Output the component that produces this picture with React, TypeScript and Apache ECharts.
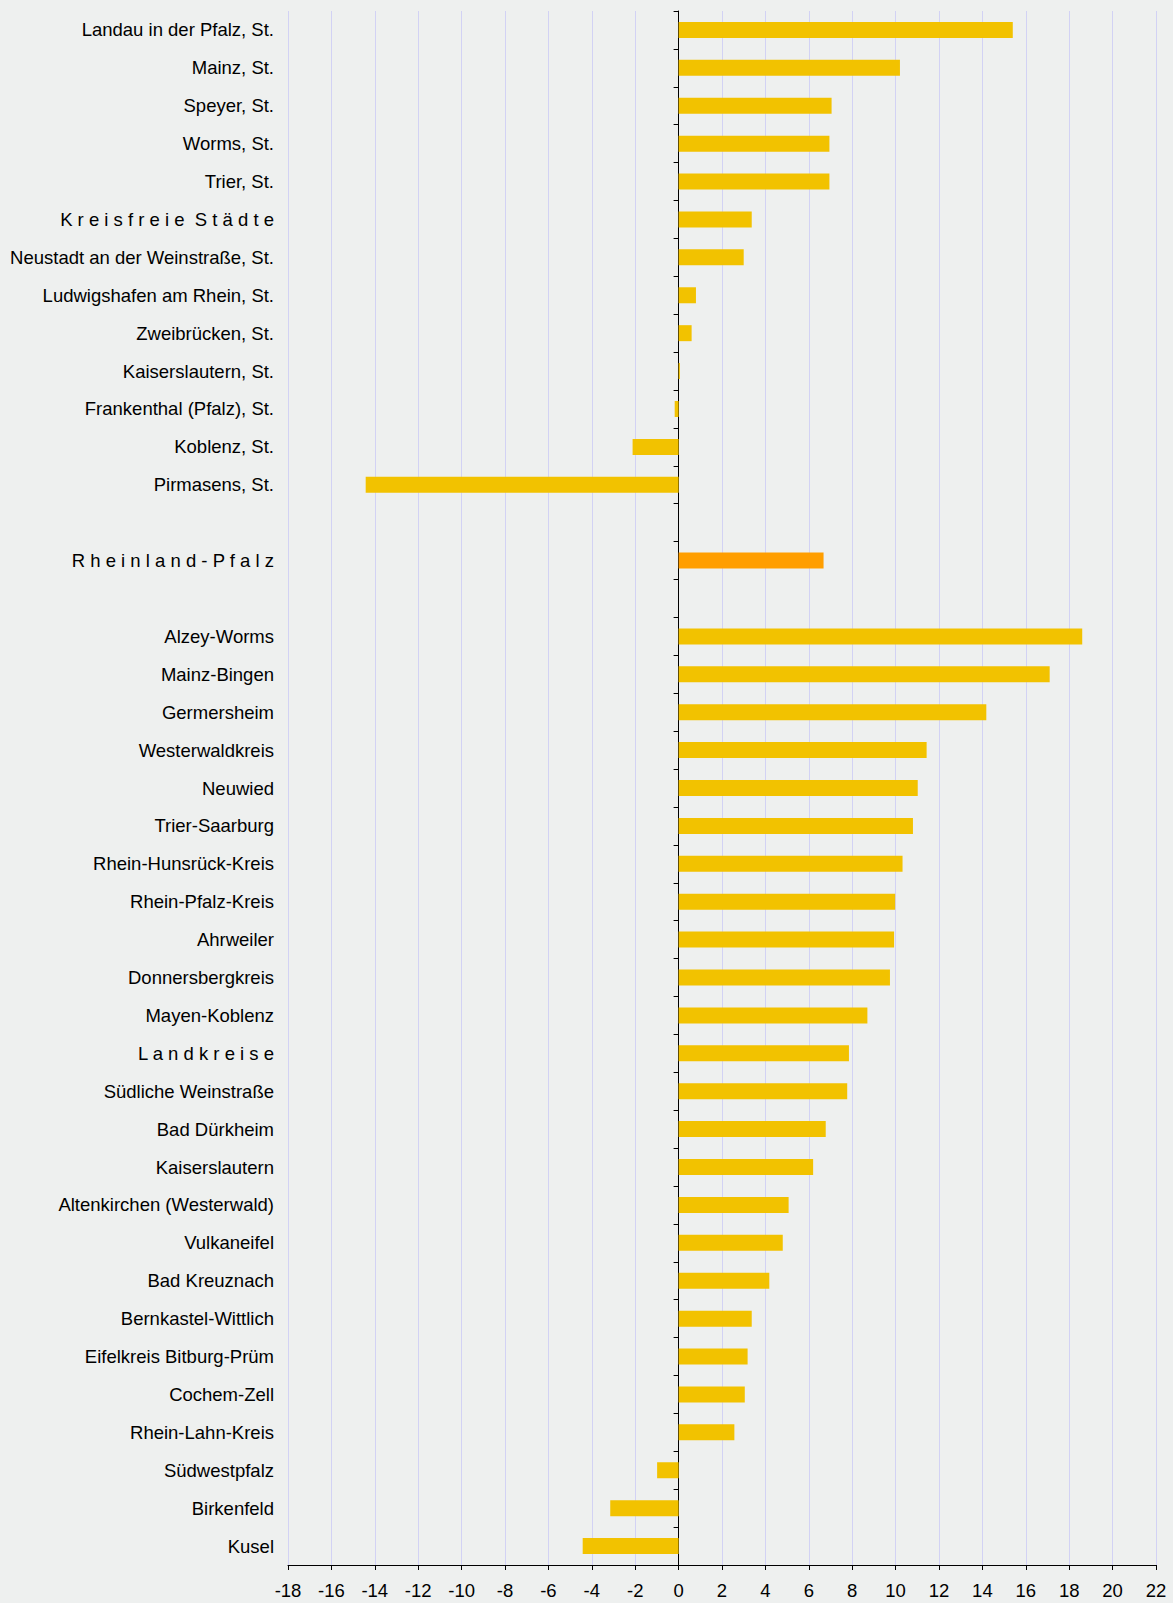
import React, { useEffect, useRef } from "react";
import * as echarts from "echarts";

const categories: string[] = [
  "Landau in der Pfalz, St.",
  "Mainz, St.",
  "Speyer, St.",
  "Worms, St.",
  "Trier, St.",
  "K r e i s f r e i e  S t ä d t e",
  "Neustadt an der Weinstraße, St.",
  "Ludwigshafen am Rhein, St.",
  "Zweibrücken, St.",
  "Kaiserslautern, St.",
  "Frankenthal (Pfalz), St.",
  "Koblenz, St.",
  "Pirmasens, St.",
  "",
  "R h e i n l a n d - P f a l z",
  " ",
  "Alzey-Worms",
  "Mainz-Bingen",
  "Germersheim",
  "Westerwaldkreis",
  "Neuwied",
  "Trier-Saarburg",
  "Rhein-Hunsrück-Kreis",
  "Rhein-Pfalz-Kreis",
  "Ahrweiler",
  "Donnersbergkreis",
  "Mayen-Koblenz",
  "L a n d k r e i s e",
  "Südliche Weinstraße",
  "Bad Dürkheim",
  "Kaiserslautern",
  "Altenkirchen (Westerwald)",
  "Vulkaneifel",
  "Bad Kreuznach",
  "Bernkastel-Wittlich",
  "Eifelkreis Bitburg-Prüm",
  "Cochem-Zell",
  "Rhein-Lahn-Kreis",
  "Südwestpfalz",
  "Birkenfeld",
  "Kusel",
];

const values: (number | null)[] = [
  15.4, 10.2, 7.05, 6.95, 6.95, 3.37, 3.0, 0.8, 0.6, 0.06, -0.18, -2.12, -14.42,
  null,
  6.68,
  null,
  18.6, 17.1, 14.18, 11.43, 11.02, 10.8, 10.32, 9.98, 9.93, 9.74, 8.7, 7.85,
  7.77, 6.78, 6.2, 5.07, 4.8, 4.18, 3.37, 3.18, 3.05, 2.57, -0.99, -3.15, -4.42,
];

const highlightCategory = "R h e i n l a n d - P f a l z";

const xMin = -18;
const xMax = 22;
const xStep = 2;

export default function App() {
  const ref = useRef<HTMLDivElement>(null);

  useEffect(() => {
    document.body.style.margin = "0";
    if (!ref.current) return;
    const chart = echarts.init(ref.current, undefined, { renderer: "svg" });

    const data = values.map((v, i) =>
      categories[i] === highlightCategory
        ? { value: v, itemStyle: { color: "#ff9e00" } }
        : v
    );

    chart.setOption({
      animation: false,
      backgroundColor: "#eef0ef",
      textStyle: { fontFamily: "Liberation Sans, Arial, sans-serif" },
      grid: { left: 288, right: 17, top: 11, bottom: 38, containLabel: false },
      xAxis: {
        type: "value",
        min: xMin,
        max: xMax,
        interval: xStep,
        axisLine: { show: true, lineStyle: { color: "#000", width: 1 } },
        axisTick: { show: true, length: 5, lineStyle: { color: "#000" } },
        axisLabel: {
          color: "#000",
          fontSize: 18.5,
          margin: 16,
          fontFamily: "Liberation Sans, Arial, sans-serif",
        },
        splitLine: {
          show: true,
          lineStyle: { color: "#d2d2f4", width: 1 },
        },
      },
      yAxis: [
        {
          type: "category",
          data: categories,
          inverse: true,
          position: "left",
          axisLine: { show: false, onZero: false },
          axisTick: { show: false },
          axisLabel: {
            color: "#000",
            fontSize: 18.5,
            margin: 14,
            fontFamily: "Liberation Sans, Arial, sans-serif",
          },
          splitLine: { show: false },
        },
        {
          type: "category",
          data: categories,
          inverse: true,
          position: "left",
          axisLine: {
            show: true,
            onZero: true,
            lineStyle: { color: "#000", width: 1 },
          },
          axisTick: { show: true, length: 5, lineStyle: { color: "#000" } },
          axisLabel: { show: false },
          splitLine: { show: false },
        },
      ],
      series: [
        {
          type: "bar",
          yAxisIndex: 0,
          data,
          barWidth: 16,
          itemStyle: { color: "#f2c200" },
          z: 1,
        },
      ],
    });

    return () => chart.dispose();
  }, []);

  return <div ref={ref} style={{ width: 1173, height: 1603 }} />;
}
